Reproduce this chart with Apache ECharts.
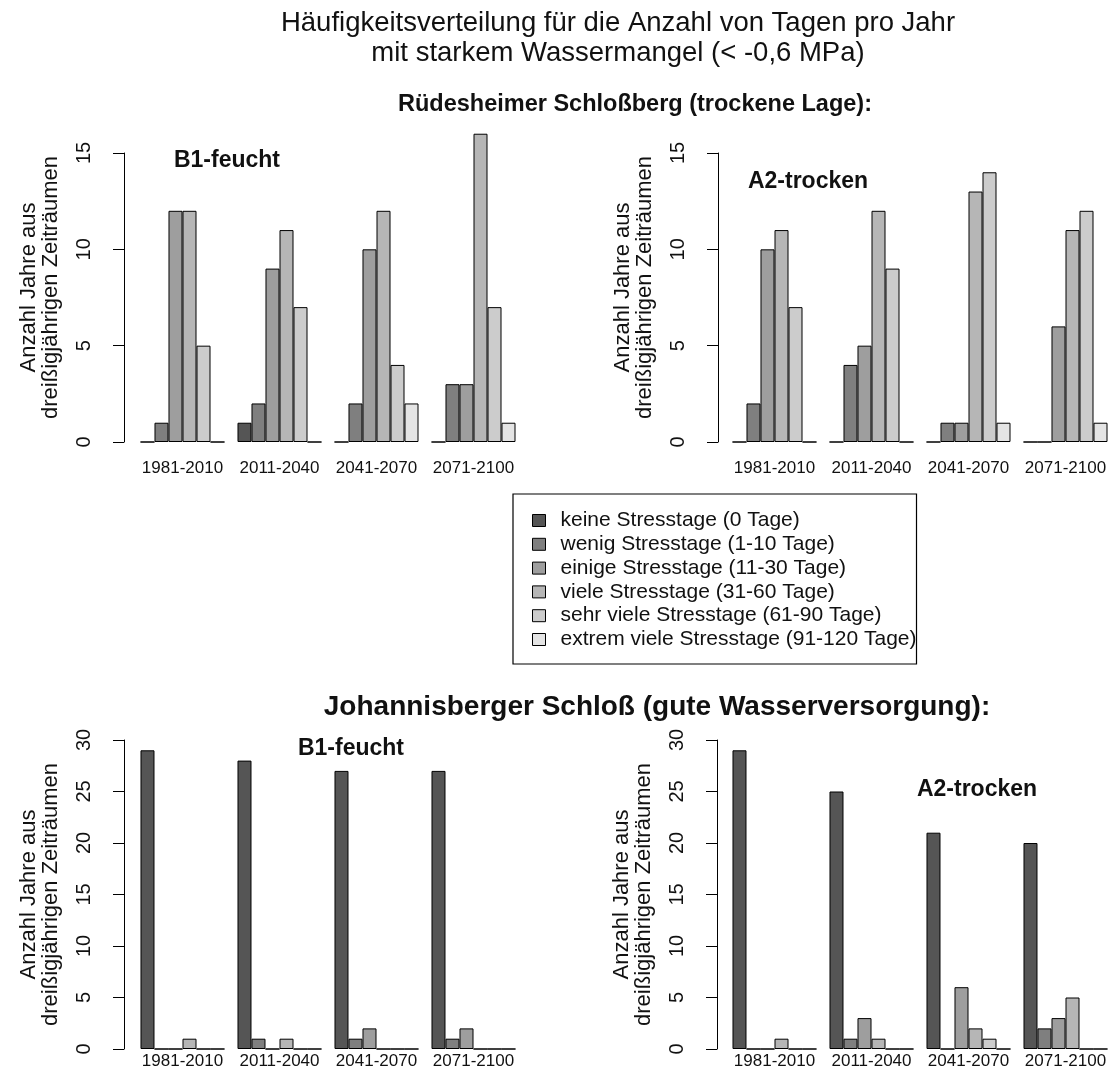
<!DOCTYPE html>
<html lang="de">
<head>
<meta charset="UTF-8">
<title>Häufigkeitsverteilung Wassermangel</title>
<script src="https://cdn.jsdelivr.net/npm/echarts@6.0.0/dist/echarts.min.js"></script>
<style>
  body { margin: 0; background: #fff; }
  #chart { width: 1112px; height: 1072px; }
</style>
</head>
<body>
<div id="chart"></div>
<script>
// Zeiträume und Stressklassen
const periods = ['1981-2010', '2011-2040', '2041-2070', '2071-2100'];
const classes = [
  'keine Stresstage (0 Tage)',
  'wenig Stresstage (1-10 Tage)',
  'einige Stresstage (11-30 Tage)',
  'viele Stresstage (31-60 Tage)',
  'sehr viele Stresstage (61-90 Tage)',
  'extrem viele Stresstage (91-120 Tage)'
];
const classColors = ['#555555', '#7f7f7f', '#9e9e9e', '#b6b6b6', '#cccccc', '#e4e4e4'];

// Anzahl Jahre je Zeitraum, Reihenfolge wie classes
const ruedesheimB1 = [[0, 1, 12, 12, 5, 0], [1, 2, 9, 11, 7, 0], [0, 2, 10, 12, 4, 2], [0, 3, 3, 16, 7, 1]];
const ruedesheimA2 = [[0, 2, 10, 11, 7, 0], [0, 4, 5, 12, 9, 0], [0, 1, 1, 13, 14, 1], [0, 0, 6, 11, 12, 1]];
const johannisB1 = [[29, 0, 0, 1, 0, 0], [28, 1, 0, 1, 0, 0], [27, 1, 2, 0, 0, 0], [27, 1, 2, 0, 0, 0]];
const johannisA2 = [[29, 0, 0, 1, 0, 0], [25, 1, 3, 1, 0, 0], [21, 0, 6, 2, 1, 0], [20, 2, 3, 5, 0, 0]];

const yName = 'Anzahl Jahre aus\ndreißigjährigen Zeiträumen';

const panels = [
  { values: ruedesheimB1, left: 134, top: 153, height: 289, max: 15, offset: 10, labelMargin: 18, namePad: [0, 0, 0, 20] },
  { values: ruedesheimA2, left: 726, top: 153, height: 289, max: 15, offset: 8, labelMargin: 18, namePad: [0, 0, 0, 20] },
  { values: johannisB1, left: 134, top: 740, height: 309, max: 30, offset: 10, labelMargin: 4, namePad: [0, 0, 0, 0] },
  { values: johannisA2, left: 726, top: 740, height: 309, max: 30, offset: 9, labelMargin: 4, namePad: [0, 0, 0, 0] }
];

const chart = echarts.init(document.getElementById('chart'));

const grids = [], xAxes = [], yAxes = [], series = [];
panels.forEach((p, i) => {
  grids.push({ left: p.left, top: p.top, width: 388, height: p.height, outerBoundsMode: 'none' });
  xAxes.push({
    type: 'category', gridIndex: i, data: periods,
    axisLine: { show: false }, axisTick: { show: false },
    axisLabel: { interval: 0, fontSize: 17, color: '#111', margin: p.labelMargin, fontFamily: 'Liberation Sans' }
  });
  yAxes.push({
    type: 'value', gridIndex: i, min: 0, max: p.max, interval: 5, offset: p.offset,
    splitLine: { show: false },
    axisLine: { show: true, lineStyle: { color: '#000', width: 1 } },
    axisTick: { show: true, length: 11, lineStyle: { color: '#000' } },
    axisLabel: { rotate: 90, fontSize: 20, margin: 30, color: '#111', fontFamily: 'Liberation Sans' },
    name: yName, nameLocation: 'middle', nameRotate: 90, nameGap: 62,
    nameTextStyle: { fontSize: 22, lineHeight: 22, color: '#111', fontFamily: 'Liberation Sans', padding: p.namePad }
  });
  classes.forEach((c, k) => {
    series.push({
      type: 'bar', name: c, xAxisIndex: i, yAxisIndex: i,
      data: p.values.map(row => row[k]),
      barGap: '0%', barCategoryGap: '13.4%', clip: false, silent: true,
      itemStyle: { color: classColors[k], borderColor: '#000', borderWidth: 1 }
    });
  });
});

const panelLabel = { fontSize: 23, fontWeight: 'bold', color: '#111', fontFamily: 'Liberation Sans' };

const option = {
  animation: false,
  backgroundColor: '#fff',
  title: [
    { text: 'Häufigkeitsverteilung für die Anzahl von Tagen pro Jahr\nmit starkem Wassermangel (< -0,6 MPa)',
      left: 613, top: 3, textAlign: 'center',
      textStyle: { fontSize: 27.5, fontWeight: 'normal', lineHeight: 30, color: '#111', fontFamily: 'Liberation Sans' } },
    { text: 'Rüdesheimer Schloßberg (trockene Lage):', left: 630, top: 88, textAlign: 'center',
      textStyle: { fontSize: 23.5, fontWeight: 'bold', color: '#111', fontFamily: 'Liberation Sans' } },
    { text: 'Johannisberger Schloß (gute Wasserversorgung):', left: 652, top: 688, textAlign: 'center',
      textStyle: { fontSize: 28, fontWeight: 'bold', color: '#111', fontFamily: 'Liberation Sans' } },
    { text: 'B1-feucht', left: 222, top: 144, textAlign: 'center', textStyle: panelLabel },
    { text: 'A2-trocken', left: 803, top: 165, textAlign: 'center', textStyle: panelLabel },
    { text: 'B1-feucht', left: 346, top: 732, textAlign: 'center', textStyle: panelLabel },
    { text: 'A2-trocken', left: 972, top: 773, textAlign: 'center', textStyle: panelLabel }
  ],
  legend: {
    data: classes, orient: 'vertical', left: 513, top: 494,
    icon: 'rect', itemWidth: 13, itemHeight: 12, itemGap: 2.8,
    borderColor: '#000', borderWidth: 1.2, padding: [16, 0, 14, 19],
    selectedMode: false,
    itemStyle: { borderColor: '#000', borderWidth: 1 },
    textStyle: { fontSize: 21, lineHeight: 21, color: '#111', fontFamily: 'Liberation Sans', padding: [0, 0, 0, 10] }
  },
  grid: grids,
  xAxis: xAxes,
  yAxis: yAxes,
  series: series
};

chart.setOption(option);
window.addEventListener('resize', () => chart.resize());
</script>
</body>
</html>
